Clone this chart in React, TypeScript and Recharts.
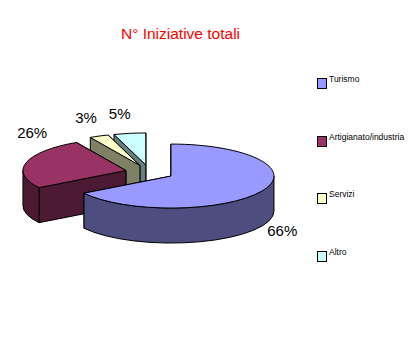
import { Legend, Pie, PieChart } from "recharts"

const categories = ["Turismo", "Artigianato/industria", "Servizi", "Altro"]
const shares = [66, 26, 3, 5]
const topColors = ["#9999ff", "#993366", "#ffffcc", "#ccffff"]
const sideColors = ["#4d4d80", "#4d1a33", "#808066", "#668080"]

// label offsets from the rim of each slice, in category order
const labelNudges = [
  [21, 39],
  [6, -30],
  [-13, -19],
  [-10, -20],
]

const WIDTH = 419
const HEIGHT = 354
const CX = 149.6
const CY = 172.4
const RX = 103
const RY = 32
const DEPTH = 35
const EXPLODE = 24.4

// drawn back to front, the big slice has to end up on top
const data = categories
  .map((name, i) => ({
    name,
    value: shares[i],
    fill: topColors[i],
    side: sideColors[i],
    nudge: labelNudges[i],
  }))
  .reverse()

const rad = (deg: number) => (deg * Math.PI) / 180

function sliceCenter(cx: number, cy: number, mid: number) {
  return {
    x: cx + EXPLODE * Math.cos(rad(mid)),
    y: cy - EXPLODE * (RY / RX) * Math.sin(rad(mid)),
  }
}

function rim(c: { x: number; y: number }, rx: number, ry: number, deg: number) {
  return { x: c.x + rx * Math.cos(rad(deg)), y: c.y - ry * Math.sin(rad(deg)) }
}

function Slice3D(props: any) {
  const { cx, cy, outerRadius, startAngle, endAngle, fill, side } = props
  const rx = outerRadius
  const ry = (outerRadius * RY) / RX
  const c = sliceCenter(cx, cy, (startAngle + endAngle) / 2)
  const a = rim(c, rx, ry, startAngle)
  const b = rim(c, rx, ry, endAngle)

  const top = `M${c.x},${c.y} L${a.x},${a.y} A${rx},${ry} 0 ${endAngle - startAngle > 180 ? 1 : 0} 0 ${b.x},${b.y} Z`

  // the two cut faces, the one nearer the viewer goes last
  const faces = [a, b]
    .sort((p, q) => p.y - q.y)
    .map((p) => `M${c.x},${c.y} L${p.x},${p.y} L${p.x},${p.y + DEPTH} L${c.x},${c.y + DEPTH} Z`)

  // outer wall, only the front half of the ellipse shows (180..360 in recharts angles)
  const walls: string[] = []
  for (const offset of [0, 360]) {
    const from = Math.max(startAngle, 180 + offset)
    const to = Math.min(endAngle, 360 + offset)
    if (from < to) {
      const p = rim(c, rx, ry, from)
      const q = rim(c, rx, ry, to)
      walls.push(
        `M${p.x},${p.y} A${rx},${ry} 0 0 0 ${q.x},${q.y} L${q.x},${q.y + DEPTH} A${rx},${ry} 0 0 1 ${p.x},${p.y + DEPTH} Z`
      )
    }
  }

  return (
    <g stroke="#000" strokeWidth={1} strokeLinejoin="round">
      {faces.map((d, i) => (
        <path key={i} d={d} fill={side} />
      ))}
      {walls.map((d, i) => (
        <path key={i} d={d} fill={side} />
      ))}
      <path d={top} fill={fill} />
    </g>
  )
}

function renderLabel(props: any) {
  const { cx, cy, midAngle, value, payload } = props
  const p = rim(sliceCenter(cx, cy, midAngle), RX, RY, midAngle)
  const nudge = payload?.nudge ?? props.nudge
  return (
    <text
      x={p.x + nudge[0]}
      y={p.y + nudge[1]}
      textAnchor="middle"
      dominantBaseline="central"
      fill="#000"
      stroke="none"
      fontSize={15}
      fontFamily="Liberation Sans"
    >
      {`${value}%`}
    </text>
  )
}

function LegendList() {
  return (
    <div style={{ fontFamily: "Liberation Sans", fontSize: 8.5, color: "#000" }}>
      {categories.map((name, i) => (
        <div key={name} style={{ position: "relative", height: 57.7 }}>
          <span
            style={{
              position: "absolute",
              left: 0,
              top: 3,
              width: 8,
              height: 9,
              border: "1px solid #000",
              background: topColors[i],
            }}
          />
          <span style={{ position: "absolute", left: 12, top: -1, whiteSpace: "nowrap", lineHeight: "10px" }}>{name}</span>
        </div>
      ))}
    </div>
  )
}

export default function App() {
  return (
    <div style={{ position: "absolute", left: 0, top: 0, width: WIDTH, height: HEIGHT, background: "#fff" }}>
      <PieChart width={WIDTH} height={HEIGHT} margin={{ top: 0, right: 0, bottom: 0, left: 0 }}>
        <text x={180.5} y={39} textAnchor="middle" fill="#ff0000" fontSize={15.5} fontFamily="Liberation Sans">
          N° Iniziative totali
        </text>
        <Pie
          data={data}
          dataKey="value"
          nameKey="name"
          cx={CX}
          cy={CY}
          innerRadius={0}
          outerRadius={RX}
          startAngle={90}
          endAngle={450}
          stroke="none"
          shape={Slice3D}
          label={renderLabel}
          labelLine={false}
          isAnimationActive={false}
        />
        <Legend
          content={LegendList}
          layout="vertical"
          wrapperStyle={{ position: "absolute", left: 317, top: 75, width: 100, bottom: "auto" }}
        />
      </PieChart>
    </div>
  )
}
